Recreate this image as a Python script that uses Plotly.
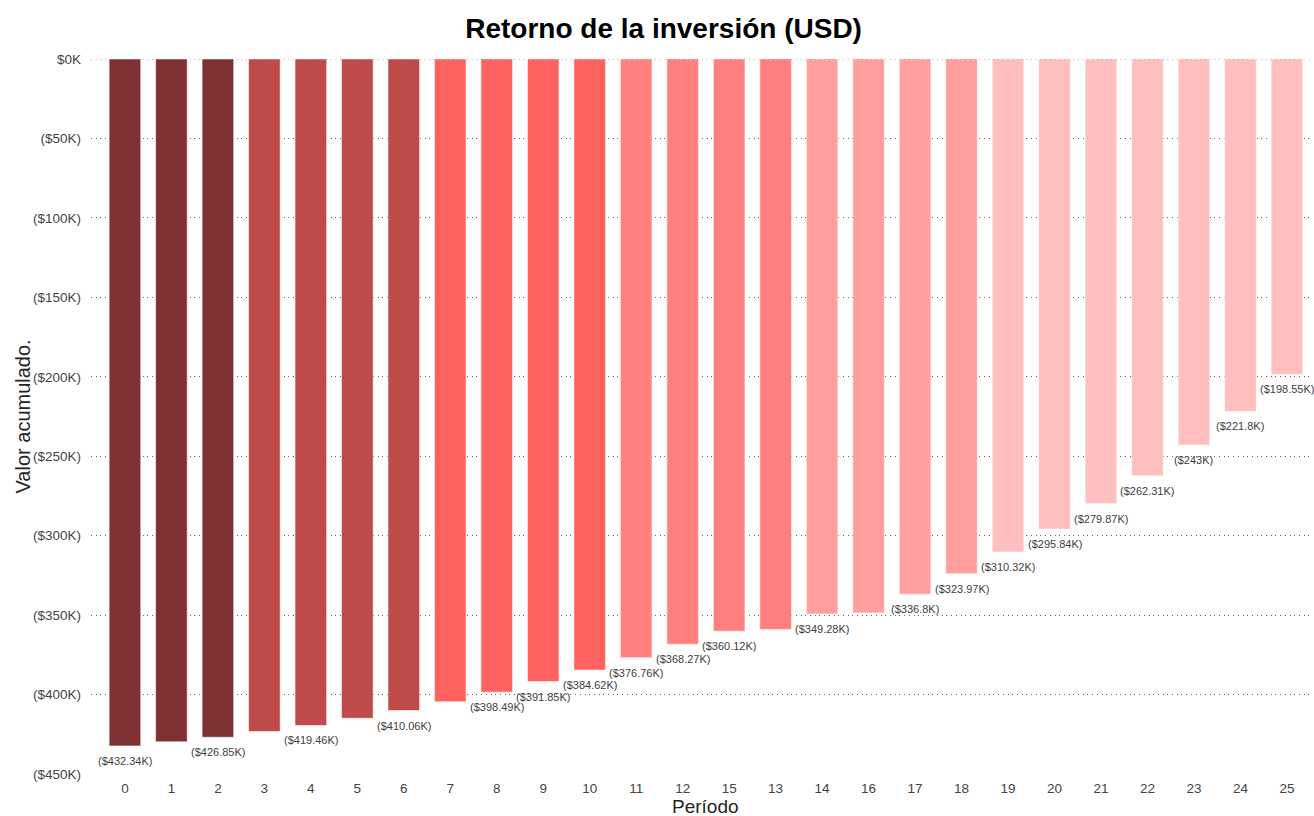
import plotly.graph_objects as go

# Período (in the order shown on the axis) and accumulated value, in thousands of USD
periodos = ["0", "1", "2", "3", "4", "5", "6", "7", "8", "9", "10", "11", "12",
            "15", "13", "14", "16", "17", "18", "19", "20", "21", "22", "23", "24", "25"]
valor_k = [-432.34, -429.7, -426.85, -423.3, -419.46, -414.9, -410.06, -404.5,
           -398.49, -391.85, -384.62, -376.76, -368.27, -360.12, -359.1, -349.28,
           -348.6, -336.8, -323.97, -310.32, -295.84, -279.87, -262.31, -243.0,
           -221.8, -198.55]
# periods whose value is written under the bar
etiquetados = ["0", "2", "4", "6", "8", "9", "10", "11", "12", "15", "14",
               "17", "18", "19", "20", "21", "22", "23", "24", "25"]

# colour band per bar
colores = (["#7F3033"] * 3 + ["#BF4A4A"] * 4 + ["#FF6361"] * 4 + ["#FF807E"] * 4
           + ["#FF9F9E"] * 4 + ["#FFBFBF"] * 7)

y_ticks = [0, -50, -100, -150, -200, -250, -300, -350, -400, -450]
y_ticktext = ["$0K", "($50K)", "($100K)", "($150K)", "($200K)", "($250K)",
              "($300K)", "($350K)", "($400K)", "($450K)"]

FONT = "Liberation Sans, Arial"
DOTS = "1px,3.7px"


def fmt(v):
    return f"(${abs(v):g}K)"


fig = go.Figure()
fig.add_trace(go.Bar(
    x=periodos,
    y=valor_k,
    marker=dict(color=colores, line=dict(color="rgba(255,255,255,0.55)", width=1)),
    hoverinfo="x+y",
))

anotaciones = []
# value labels: category axes take the position index, so numeric-looking
# period names are never mistaken for positions
for i, (p, v) in enumerate(zip(periodos, valor_k)):
    if p in etiquetados:
        anotaciones.append(dict(
            x=i, y=v, xref="x", yref="y", text=fmt(v), showarrow=False,
            yshift=-15, font=dict(family=FONT, size=11, color="#404040"),
        ))

# axis titles
anotaciones.append(dict(
    x=0, y=0.5, xref="paper", yref="paper", text="Valor acumulado.", showarrow=False,
    textangle=-90, xanchor="center", yanchor="middle", xshift=-69,
    font=dict(family=FONT, size=20, color="#252423"),
))
anotaciones.append(dict(
    x=0.5, y=0, xref="paper", yref="paper", text="Período", showarrow=False,
    xanchor="center", yanchor="middle", yshift=-32, xshift=4,
    font=dict(family=FONT, size=19, color="#252423"),
))

fig.update_layout(
    width=1314, height=816,
    margin=dict(l=91, r=2, t=59, b=42, autoexpand=False),
    paper_bgcolor="white", plot_bgcolor="white",
    showlegend=False,
    bargap=0.32,
    title=dict(text="<b>Retorno de la inversión (USD)</b>", x=0.505, xanchor="center",
               y=0.966, yanchor="middle",
               font=dict(family=FONT, size=28, color="#000000")),
    annotations=anotaciones,
    shapes=[dict(type="line", xref="paper", yref="y", x0=0, x1=1, y0=0, y1=0,
                 layer="above", line=dict(color="#666666", width=1, dash=DOTS))],
)

fig.update_xaxes(
    type="category", categoryorder="array", categoryarray=periodos,
    range=[-0.73, 25.54],
    showgrid=False, zeroline=False, showline=False, ticks="", ticklabelstandoff=4,
    tickfont=dict(family=FONT, size=13.5, color="#444444"),
)
fig.update_yaxes(
    range=[-450, 0],
    tickvals=y_ticks, ticktext=y_ticktext,
    showgrid=True, gridcolor="#666666", gridwidth=1, griddash=DOTS,
    zeroline=False, showline=False, ticks="", ticklabelstandoff=9,
    tickfont=dict(family=FONT, size=13.5, color="#444444"),
)

fig.write_html("out.html")
